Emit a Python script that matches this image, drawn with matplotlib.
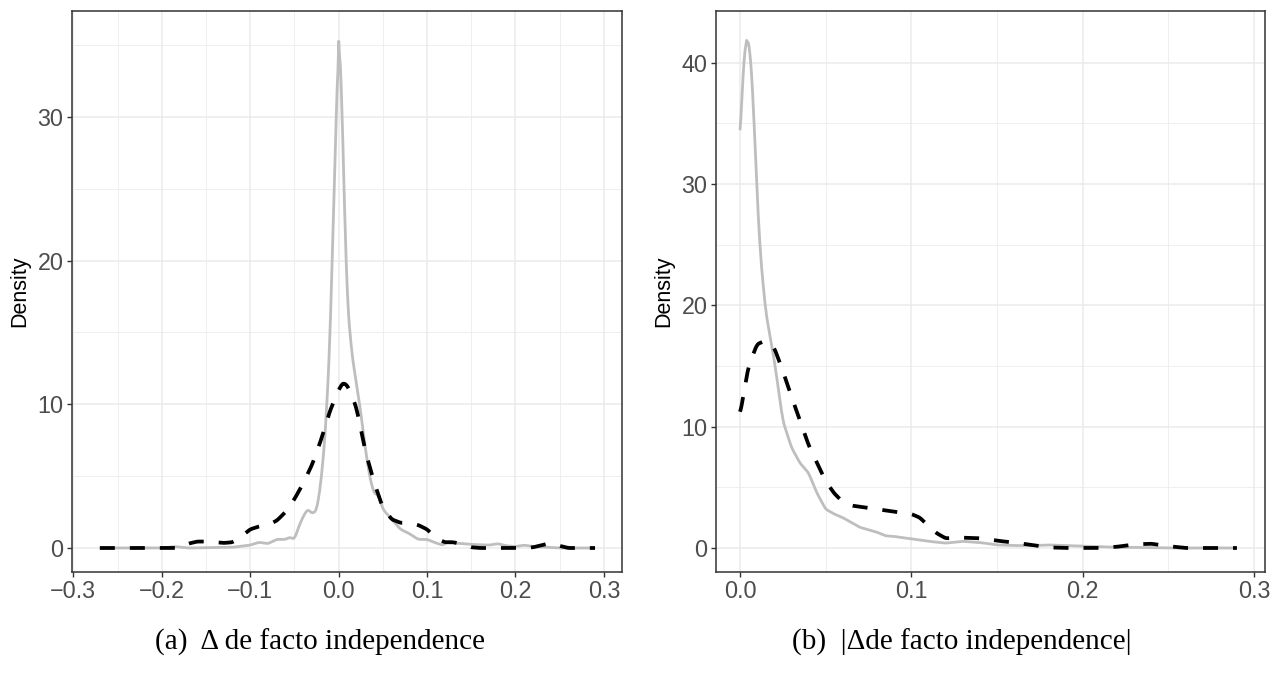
#!/usr/bin/env python3
"""Density curves of the change in de facto independence, two panels."""

import matplotlib
matplotlib.use("Agg")
import matplotlib.pyplot as plt
import numpy as np

# panel (a): signed change
a_grey_x = [-0.27, -0.2, -0.185, -0.17, -0.12, -0.1, -0.09, -0.08, -0.07, -0.06, -0.055,
            -0.05, -0.045, -0.04, -0.035, -0.03, -0.025, -0.02, -0.015, -0.01, -0.005, 0.0,
            0.003, 0.006, 0.01, 0.015, 0.02, 0.025, 0.03, 0.035, 0.04, 0.045, 0.05, 0.06,
            0.07, 0.08, 0.09, 0.1, 0.11, 0.118, 0.125, 0.13, 0.14, 0.15, 0.17, 0.18, 0.19,
            0.2, 0.21, 0.22, 0.25, 0.29]
a_grey_y = [0.0, 0.0, 0.1, 0.0, 0.05, 0.2, 0.4, 0.3, 0.6, 0.6, 0.75,
            0.6, 1.5, 2.2, 2.7, 2.4, 2.6, 4.5, 8.0, 14.0, 25.0, 35.6,
            33.0, 25.0, 17.0, 13.5, 11.5, 9.5, 7.0, 5.0, 3.8, 3.7, 2.7, 2.0,
            1.3, 1.0, 0.6, 0.6, 0.35, 0.2, 0.5, 0.35, 0.3, 0.25, 0.2, 0.3, 0.15,
            0.1, 0.2, 0.1, 0.0, 0.0]
a_dash_x = [-0.27, -0.18, -0.17, -0.16, -0.15, -0.14, -0.13, -0.12, -0.11, -0.1, -0.09,
            -0.08, -0.07, -0.06, -0.05, -0.04, -0.03, -0.02, -0.01, 0.0, 0.005, 0.01,
            0.02, 0.03, 0.04, 0.05, 0.06, 0.07, 0.08, 0.09, 0.1, 0.11, 0.12, 0.13, 0.14,
            0.15, 0.16, 0.21, 0.22, 0.23, 0.24, 0.25, 0.26, 0.29]
a_dash_y = [0.0, 0.0, 0.3, 0.45, 0.45, 0.4, 0.35, 0.4, 0.8, 1.3, 1.5,
            1.6, 1.9, 2.5, 3.4, 4.5, 5.8, 7.5, 9.5, 11.0, 11.5, 11.3,
            9.8, 6.8, 4.6, 2.8, 2.0, 1.75, 1.75, 1.6, 1.3, 0.7, 0.4, 0.4, 0.25,
            0.05, 0.0, 0.0, 0.05, 0.2, 0.35, 0.15, 0.0, 0.0]

# panel (b): absolute change
b_grey_x = [0.0, 0.002, 0.004, 0.006, 0.008, 0.01, 0.012, 0.015, 0.02, 0.025, 0.03,
            0.035, 0.04, 0.045, 0.05, 0.055, 0.06, 0.07, 0.08, 0.085, 0.09, 0.1, 0.11,
            0.12, 0.13, 0.14, 0.15, 0.16, 0.17, 0.18, 0.19, 0.2, 0.21, 0.22, 0.23, 0.25,
            0.29]
b_grey_y = [33.5, 40.0, 42.2, 41.0, 36.0, 29.0, 24.0, 19.5, 15.5, 10.5, 8.3,
            7.0, 6.2, 4.5, 3.2, 2.8, 2.5, 1.7, 1.3, 1.0, 0.95, 0.75, 0.55,
            0.4, 0.55, 0.45, 0.25, 0.2, 0.2, 0.25, 0.2, 0.15, 0.1, 0.05, 0.05, 0.0,
            0.0]
b_dash_x = [0.0, 0.005, 0.01, 0.015, 0.02, 0.025, 0.03, 0.035, 0.04, 0.045, 0.05,
            0.055, 0.06, 0.065, 0.07, 0.08, 0.09, 0.1, 0.105, 0.11, 0.115, 0.12, 0.13,
            0.14, 0.15, 0.16, 0.17, 0.18, 0.19, 0.21, 0.22, 0.23, 0.24, 0.25, 0.26, 0.29]
b_dash_y = [11.0, 15.0, 16.8, 17.1, 16.5, 14.6, 12.5, 10.5, 8.5, 7.0, 5.5,
            4.5, 3.8, 3.5, 3.4, 3.2, 3.0, 2.8, 2.5, 1.8, 1.2, 0.8, 0.85,
            0.8, 0.6, 0.45, 0.25, 0.05, 0.0, 0.0, 0.1, 0.3, 0.35, 0.15, 0.0, 0.0]

a_xticks = [-0.3, -0.2, -0.1, 0.0, 0.1, 0.2, 0.3]
b_xticks = [0.0, 0.1, 0.2, 0.3]
a_yticks = [0, 10, 20, 30]
b_yticks = [0, 10, 20, 30, 40]
captions = ["(a)  \u0394 de facto independence", "(b)  |\u0394de facto independence|"]

FRAME = "#333333"
GRID = "#EBEBEB"


def smooth(xs, ys, n=600):
    # resample the traced points and soften the corners a little
    xs = np.asarray(xs, float)
    ys = np.asarray(ys, float)
    xn = np.linspace(xs[0], xs[-1], n)
    yn = np.interp(xn, xs, ys)
    k = np.ones(5) / 5
    ypad = np.concatenate([[yn[0]] * 2, yn, [yn[-1]] * 2])
    ys2 = np.convolve(ypad, k, mode="valid")
    # keep the peak height
    ys2[np.argmax(yn)] = max(ys2[np.argmax(yn)], yn.max() * 0.995)
    return xn, ys2


def style_panel(ax, xticks, yticks, xlim, ylim):
    ax.set_xlim(*xlim)
    ax.set_ylim(*ylim)
    ax.set_xticks(xticks)
    ax.set_yticks(yticks)
    ax.set_xticklabels([f"{t:.1f}".replace("-", "\u2212") for t in xticks])
    ax.set_yticklabels([str(t) for t in yticks])
    xminor = [(xticks[i] + xticks[i + 1]) / 2 for i in range(len(xticks) - 1)]
    yminor = [t + 5 for t in yticks]
    for v in xminor:
        ax.axvline(v, color=GRID, lw=0.55, zorder=0)
    for v in yminor:
        ax.axhline(v, color=GRID, lw=0.55, zorder=0)
    for v in xticks:
        ax.axvline(v, color=GRID, lw=1.1, zorder=0)
    for v in yticks:
        ax.axhline(v, color=GRID, lw=1.1, zorder=0)
    for s in ax.spines.values():
        s.set_color(FRAME)
        s.set_linewidth(1.1)
    ax.tick_params(length=3.5, width=1.0, color=FRAME, labelcolor="#4D4D4D",
                   labelsize=16.8, pad=2.5)
    ax.set_ylabel("Density", fontsize=15.5, color="black", labelpad=5)


plt.rcParams["font.family"] = ["Liberation Sans", "DejaVu Sans"]

fig = plt.figure(figsize=(12.82, 6.79), dpi=100)
ax1 = fig.add_axes([72 / 1282, 1 - 572 / 679, 550 / 1282, 561 / 679])
ax2 = fig.add_axes([716 / 1282, 1 - 572 / 679, 549 / 1282, 561 / 679])

for ax, gx, gy, dx, dy in [(ax1, a_grey_x, a_grey_y, a_dash_x, a_dash_y),
                           (ax2, b_grey_x, b_grey_y, b_dash_x, b_dash_y)]:
    xs, ys = smooth(gx, gy)
    ax.plot(xs, ys, color="#BEBEBE", lw=2.0, solid_capstyle="butt", zorder=2)
    xs, ys = smooth(dx, dy)
    ax.plot(xs, ys, color="black", lw=2.7, dashes=(4, 4), dash_capstyle="butt", zorder=3)

style_panel(ax1, a_xticks, a_yticks, (-0.3015, 0.3205), (-1.67, 37.37))
style_panel(ax2, b_xticks, b_yticks, (-0.014, 0.3064), (-1.98, 44.27))

fig.text(320 / 1282, 1 - 642 / 679, captions[0], ha="center", va="center",
         fontsize=21, family=["Liberation Serif", "DejaVu Serif"])
fig.text(962 / 1282, 1 - 642 / 679, captions[1], ha="center", va="center",
         fontsize=21, family=["Liberation Serif", "DejaVu Serif"])

fig.savefig("out.png", dpi=100)
